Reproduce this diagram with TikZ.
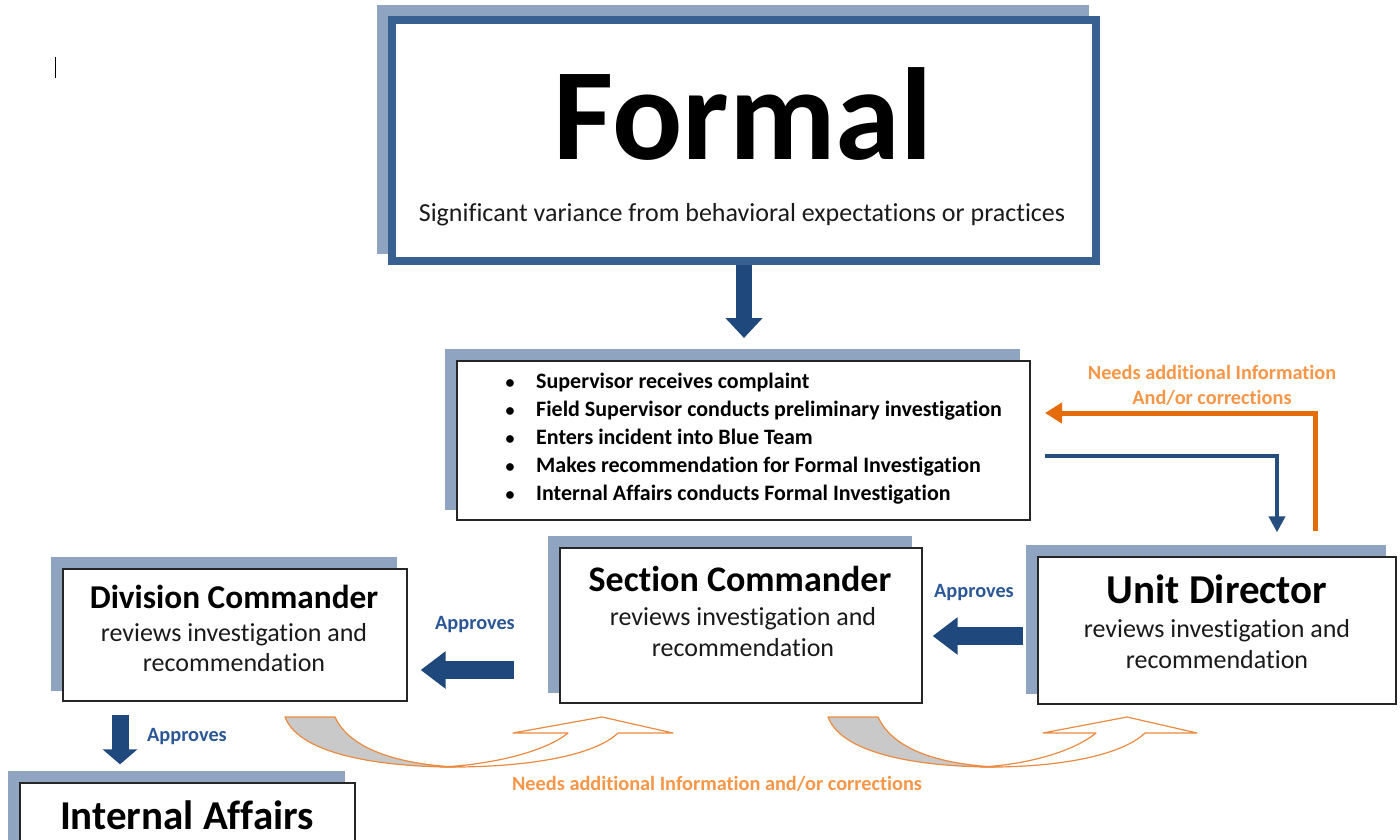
\documentclass[tikz,border=0pt]{standalone}
\usepackage{fontspec}
\setmainfont{Carlito}[Ligatures=NoCommon]
\usetikzlibrary{arrows.meta,backgrounds,calc}
\definecolor{shadowc}{HTML}{8EA4C1}
\definecolor{topborder}{HTML}{386090}
\definecolor{dblue}{HTML}{1F497D}
\definecolor{lblue}{HTML}{254E7F}
\definecolor{apblue}{HTML}{2B5797}
\definecolor{oline}{HTML}{E46C0A}
\definecolor{otext}{HTML}{F79646}
\definecolor{carc}{HTML}{EC8A3F}
\definecolor{grayf}{HTML}{C9C9C9}
\definecolor{boxline}{HTML}{262626}
\definecolor{txt}{HTML}{1A1A1A}
\begin{document}
\begin{tikzpicture}[x=1pt,y=-1pt,
  box/.style={draw=boxline,line width=1.3pt,fill=white,inner sep=0pt},
  ttl/.style={anchor=base,font=\bfseries\fontsize{36}{36}\selectfont},
  bigttl/.style={anchor=base,font=\bfseries\fontsize{41}{41}\selectfont},
  bodyt/.style={anchor=base,text=txt,font=\fontsize{26}{26}\selectfont},
  bult/.style={anchor=base west,inner sep=0pt,font=\bfseries\fontsize{22}{22}\selectfont},
  appr/.style={anchor=base,text=apblue,font=\bfseries\fontsize{20.3}{20.3}\selectfont},
  otxt/.style={anchor=base,text=otext,font=\bfseries\fontsize{20.3}{20.3}\selectfont},
  barrow/.style={draw=dblue,line width=18pt,-{Triangle[width=36pt,length=25pt]}},
  larrow/.style={draw=lblue,line width=4pt,-{Triangle[width=16pt,length=16pt]}},
  oarrow/.style={draw=oline,line width=5pt,-{Triangle[width=20pt,length=17pt]}},
  carrow/.style={draw=carc,line width=1.2pt,line join=round}]
\useasboundingbox (0,0) rectangle (1400,840);

% cursor mark
\draw[line width=1pt] (55,57) -- (55,78);

% boxes
\node[draw=topborder,line width=8pt,fill=white,minimum width=704pt,minimum height=241pt] (top) at (744,140.5) {};
\node[box,minimum width=573pt,minimum height=159pt] (bul) at (743.5,440.5) {};
\node[box,minimum width=358pt,minimum height=147pt] (ud) at (1217,630.5) {};
\node[box,minimum width=362pt,minimum height=155pt] (sc) at (741,625.5) {};
\node[box,minimum width=344pt,minimum height=132pt] (dc) at (235,635) {};
\node[box,minimum width=335pt,minimum height=90pt] (ia) at (187.5,828) {};

\begin{scope}[on background layer]
\foreach \n in {top,bul,ud,sc,dc,ia}
  \fill[shadowc] ([shift={(-11,-11)}]\n.north west) rectangle ([shift={(-11,-11)}]\n.south east);
\end{scope}

% texts
\node[anchor=base,font=\bfseries\fontsize{131}{131}\selectfont] (formal) at (743,160) {Formal};
\node[anchor=base,text=txt,font=\fontsize{26}{26}\selectfont] (sub) at (742,221) {Significant variance from behavioral expectations or practices};

\foreach \t [count=\i] in {Supervisor receives complaint,Field Supervisor conducts preliminary investigation,Enters incident into Blue Team,Makes recommendation for Formal Investigation,Internal Affairs conducts Formal Investigation}{
  \node[anchor=base,font=\bfseries\fontsize{18}{18}\selectfont] (b\i) at (510,{360+28*\i}) {\textbullet};
  \node[bult] (bt\i) at (536,{360+28*\i}) {\t};
}

\node[bigttl] (udt) at (1217,603) {Unit Director};
\node[bodyt] (ud1) at (1217,637) {reviews investigation and};
\node[bodyt] (ud2) at (1217,668) {recommendation};

\node[ttl] (sct) at (740,591) {Section Commander};
\node[bodyt] (sc1) at (743,625) {reviews investigation and};
\node[bodyt] (sc2) at (743,656) {recommendation};

\node[bigttl,font=\bfseries\fontsize{33.3}{33.3}\selectfont] (dct) at (234,608) {Division Commander};
\node[bodyt] (dc1) at (234,641) {reviews investigation and};
\node[bodyt] (dc2) at (234,671) {recommendation};

\node[bigttl] (iat) at (187,829) {Internal Affairs};

\node[appr] (ap1) at (974,597) {Approves};
\node[appr] (ap2) at (475,629) {Approves};
\node[appr] (ap3) at (187,741) {Approves};

\node[otxt] (on1) at (1212,379) {Needs additional Information};
\node[otxt] (on2) at (1212,404) {And/or corrections};
\node[otxt] (on3) at (717,790) {Needs additional Information and/or corrections};

% block arrows
\draw[barrow,line width=16pt,-{Triangle[width=36pt,length=20pt]}] (top.south) -- ([yshift=-73pt]top.south);
\draw[barrow] ([xshift=-14pt]ud.west |- 0,636) -- ([xshift=10pt]sc.east |- 0,636);
\draw[barrow] ([xshift=-45pt]sc.west |- 0,670) -- ([xshift=13pt]dc.east |- 0,670);
\draw[barrow,line width=17pt,-{Triangle[width=34pt,length=15pt]}] ([yshift=-13pt]dc.south -| 120,0) -- ([yshift=18pt]ia.north -| 120,0);

% line arrows
\coordinate (bstart) at (1045,456);
\coordinate (oend) at (1045,413);
\draw[larrow] (bstart) -| ([xshift=60pt,yshift=24pt]ud.north);
\draw[oarrow] ([xshift=98pt,yshift=25pt]ud.north) |- (oend);

% curved return arrows
\draw[carrow,fill=white] (440,767) .. controls (530,768) and (595,755) .. (618,733) -- (673,733) -- (602,717) -- (513,733) -- (568,733) .. controls (545,752) and (490,765) .. (440,767) -- cycle;
\draw[carrow,fill=grayf] (285,717) -- (335,717) .. controls (350,750) and (400,764) .. (455,767) .. controls (390,767) and (300,757) .. (285,717) -- cycle;

\draw[carrow,fill=white] (980,767) .. controls (1060,768) and (1122,755) .. (1145,733) -- (1197,733) -- (1127,717) -- (1043,733) -- (1096,733) .. controls (1073,752) and (1025,765) .. (980,767) -- cycle;
\draw[carrow,fill=grayf] (828,717) -- (878,717) .. controls (893,750) and (940,764) .. (995,767) .. controls (930,767) and (843,757) .. (828,717) -- cycle;
\end{tikzpicture}
\end{document}
